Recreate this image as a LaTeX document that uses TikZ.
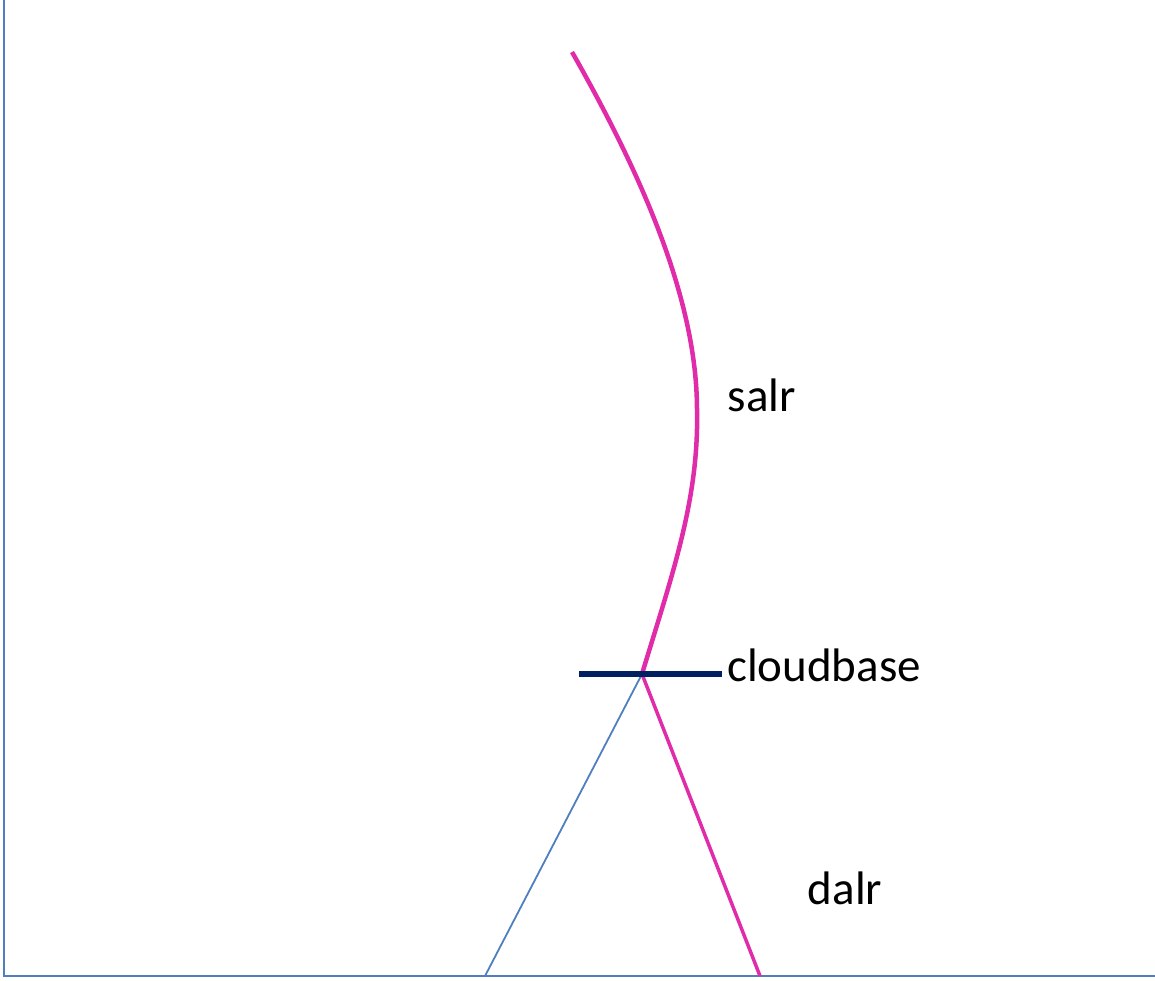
\documentclass[tikz,border=0pt]{standalone}
\usepackage{fontspec}
\setmainfont{Carlito}
\definecolor{axisblue}{HTML}{4F7FBF}
\definecolor{lrpink}{HTML}{E02CA8}
\definecolor{navy}{HTML}{002060}
\tikzset{
  axis/.style={draw=axisblue, line width=2.5pt},
  salrline/.style={draw=lrpink, line width=4.5pt},
  dalrline/.style={draw=lrpink, line width=3.5pt},
  envline/.style={draw=axisblue, line width=1.8pt},
  baseline/.style={draw=navy, line width=5.5pt},
  lbl/.style={font=\fontsize{47}{54}\selectfont, inner sep=0pt}
}
\begin{document}
\begin{tikzpicture}[x=1pt,y=-1pt]
\useasboundingbox (0,0) rectangle (1155,980);
\coordinate (origin) at (4,976);
\coordinate (ytop) at (4,0);
\coordinate (xend) at (1155,976);
\coordinate (envfoot) at (485,976);
\coordinate (cb) at (642,674);
\coordinate (dalrfoot) at (760,976);
\coordinate (salrtop) at (572,52);
\coordinate (salrmid) at (697,410);
\coordinate (cbl) at (579,674);
\coordinate (cbr) at (722,674);
\draw[axis] (ytop) -- (origin) -- (xend);
\draw[envline] (envfoot) -- (cb);
\draw[dalrline] (cb) -- (dalrfoot);
\draw[salrline] (salrtop) .. controls (642,175) and (697,300) .. (salrmid)
  .. controls (699,500) and (672,575) .. (cb);
\draw[baseline] (cbl) -- (cbr);
\node[lbl, anchor=west] (cloud) at (727,665) {cloudbase};
\node[lbl] (salr) at (762,395) {salr};
\node[lbl] (dalr) at (845,888) {dalr};
\end{tikzpicture}
\end{document}
